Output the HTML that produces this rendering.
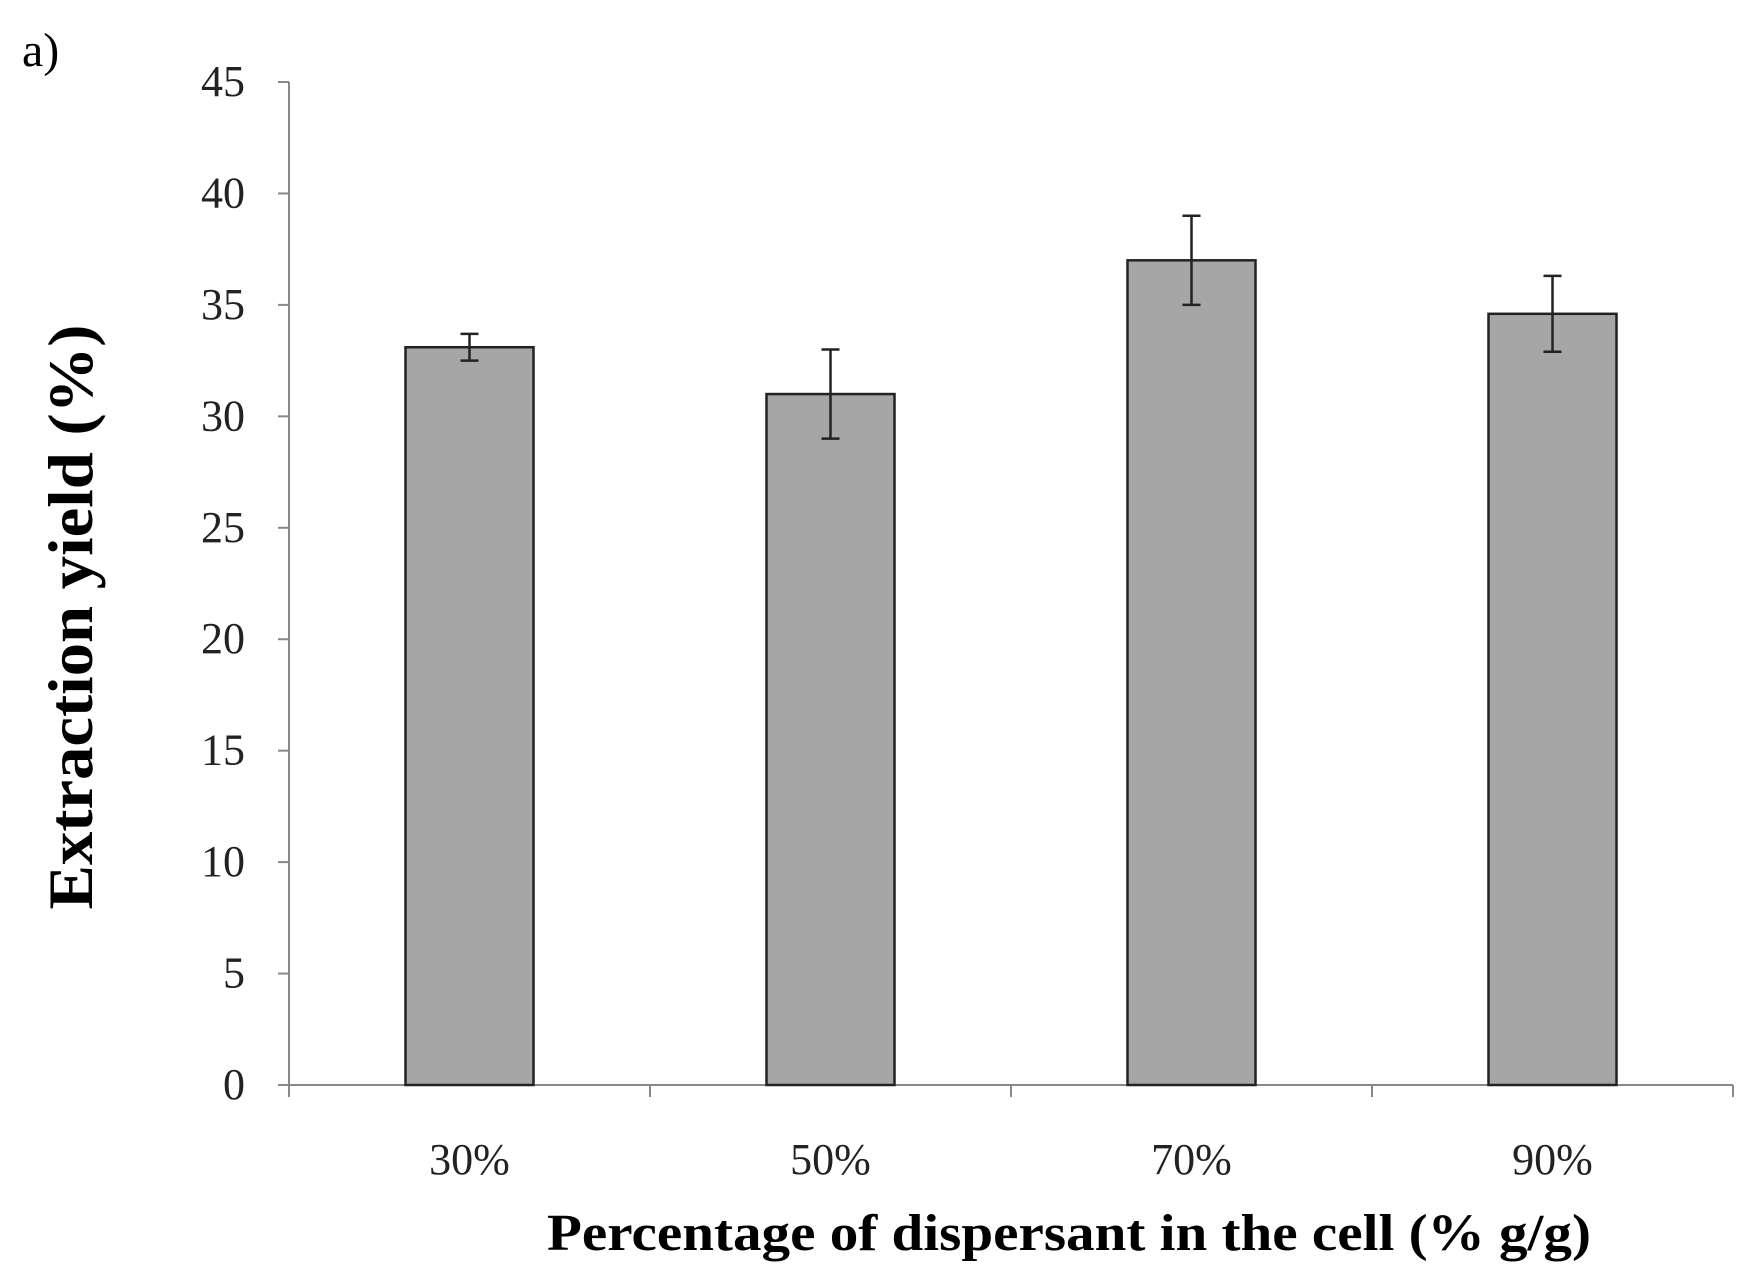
<!DOCTYPE html>
<html><head><meta charset="utf-8"><style>
html,body{margin:0;padding:0;background:#fff;}
svg{display:block;font-family:"Liberation Serif",serif;}
</style></head><body>
<svg id="chart" width="1750" height="1288" viewBox="0 0 1750 1288">
<text x="22" y="66" font-size="48">a)</text>
<g id="axes"></g><g id="bars"></g>
<text transform="translate(92,617) rotate(-90)" text-anchor="middle" font-size="64" font-weight="bold" textLength="585" lengthAdjust="spacingAndGlyphs">Extraction yield (%)</text>
<text x="1069" y="1250" text-anchor="middle" font-size="52" font-weight="bold" textLength="1044" lengthAdjust="spacingAndGlyphs">Percentage of dispersant in the cell (% g/g)</text>
</svg>
<script>
const categories=["30%","50%","70%","90%"];
const values=[33.1,31.0,37.0,34.6];
const errors=[0.6,2.0,2.0,1.7];
const yTicks=[0,5,10,15,20,25,30,35,40,45];
const NS="http://www.w3.org/2000/svg";
const x0=289,x1=1733,y0=1085,yTop=82,yMax=45;
const y=v=>y0-(y0-yTop)*v/yMax;
const band=(x1-x0)/categories.length;
const cx=i=>x0+band*(i+0.5);
function mk(t,a,p){const e=document.createElementNS(NS,t);for(const k in a)e.setAttribute(k,a[k]);p.appendChild(e);return e;}
const ax=document.getElementById('axes'),bg=document.getElementById('bars');
let l=mk('line',{x1:x0,y1:yTop,x2:x0,y2:y0,stroke:'#888','stroke-width':2},ax);


l=mk('line',{x1:x0,y1:y0,x2:x1,y2:y0,stroke:'#888','stroke-width':2},ax);


yTicks.forEach(v=>{
 const tk=mk('line',{x1:x0-11,y1:y(v),x2:x0,y2:y(v),stroke:'#888','stroke-width':2},ax);
 
 
 const t=mk('text',{x:245,y:y(v)+14,'text-anchor':'end','font-size':44,fill:'#222'},ax);
 t.textContent=v;
 
 
});
for(let i=0;i<=categories.length;i++){
 const tk=mk('line',{x1:x0+band*i,y1:y0,x2:x0+band*i,y2:y0+12,stroke:'#888','stroke-width':2},ax);
 
 
}
categories.forEach((c,i)=>{
 const t=mk('text',{x:cx(i),y:1174,'text-anchor':'middle','font-size':44,fill:'#222'},ax);
 t.textContent=c;
 
 
 const w=128;
 const r=mk('rect',{x:cx(i)-w/2,y:y(values[i]),width:w,height:y0-y(values[i]),fill:'#a6a6a6',stroke:'#222','stroke-width':2.5},bg);
 
 
 const g=mk('g',{stroke:'#222','stroke-width':2.5},bg);
 
 
 const hi=y(values[i]+errors[i]),lo=y(values[i]-errors[i]);
 mk('line',{x1:cx(i),y1:hi,x2:cx(i),y2:lo},g);
 mk('line',{x1:cx(i)-9,y1:hi,x2:cx(i)+9,y2:hi},g);
 mk('line',{x1:cx(i)-9,y1:lo,x2:cx(i)+9,y2:lo},g);
});
</script>
</body></html>
